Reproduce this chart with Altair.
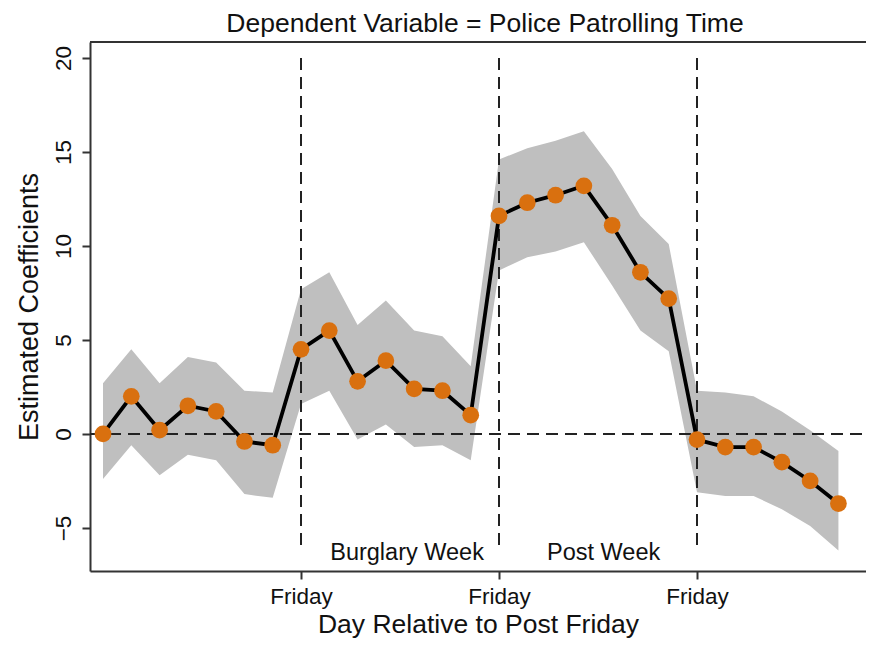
import altair as alt
import pandas as pd

# ---- data ----
days = list(range(-14, 13))
coef = [0.0, 2.0, 0.2, 1.5, 1.2, -0.4, -0.6,
        4.5, 5.5, 2.8, 3.9, 2.4, 2.3, 1.0,
        11.6, 12.3, 12.7, 13.2, 11.1, 8.6, 7.2,
        -0.3, -0.7, -0.7, -1.5, -2.5, -3.7]
upper = [2.7, 4.5, 2.7, 4.1, 3.8, 2.3, 2.2,
         7.7, 8.6, 5.8, 7.1, 5.5, 5.2, 3.6,
         14.6, 15.2, 15.6, 16.1, 14.1, 11.6, 10.1,
         2.3, 2.2, 2.0, 1.2, 0.2, -0.9]
lower = [-2.4, -0.6, -2.2, -1.1, -1.4, -3.2, -3.4,
         1.6, 2.3, -0.3, 0.5, -0.7, -0.6, -1.4,
         8.7, 9.4, 9.7, 10.2, 7.9, 5.5, 4.4,
         -3.1, -3.3, -3.3, -4.0, -4.9, -6.2]
friday_days = [-7, 0, 7]
friday_label = "Friday"
week_labels = ["Burglary Week", "Post Week"]
week_label_days = [-3.25, 3.7]
week_label_y = -6.7
vline_top, vline_bottom = 20, -6
y_ticks = [-5, 0, 5, 10, 15, 20]

FONT = "Liberation Sans"
W, H = 776, 529

df = pd.DataFrame({"day": days, "coef": coef, "upper": upper, "lower": lower})
fr = pd.DataFrame({"day": friday_days, "top": [vline_top] * 3, "bottom": [vline_bottom] * 3})
zero = pd.DataFrame({"y": [0]})
wk = pd.DataFrame({"day": week_label_days, "label": week_labels, "y": [week_label_y] * 2})

xs = alt.Scale(domain=[-14.46, 12.975], nice=False, zero=False)
ys = alt.Scale(domain=[-7.29, 20.85], nice=False, zero=False)

x_axis = alt.Axis(values=friday_days, labelExpr="'" + friday_label + "'",
                  title="Day Relative to Post Friday", grid=False,
                  tickSize=8, labelPadding=6, labelFontSize=22.5,
                  titleFontSize=26.5, titlePadding=4, labelBaseline="top")
y_axis = alt.Axis(values=y_ticks, title="Estimated Coefficients", grid=False,
                  tickSize=8, labelAngle=270, labelAlign="center",
                  labelBaseline="bottom", labelPadding=7, labelFontSize=22.5,
                  titleFontSize=27, titlePadding=9)

band = alt.Chart(df).mark_area(color="#bfbfbf", opacity=1).encode(
    x=alt.X("day:Q", scale=xs, axis=x_axis),
    y=alt.Y("upper:Q", scale=ys, axis=y_axis),
    y2="lower:Q",
)

zero_rule = alt.Chart(zero).mark_rule(color="#222222", strokeWidth=2, strokeDash=[12, 7]).encode(
    y=alt.Y("y:Q", scale=ys), x=alt.value(0), x2=alt.value(W)
)

vrules = alt.Chart(fr).mark_rule(color="#222222", strokeWidth=2, strokeDash=[12, 7]).encode(
    x=alt.X("day:Q", scale=xs), y=alt.Y("top:Q", scale=ys), y2="bottom:Q"
)

line = alt.Chart(df).mark_line(color="black", strokeWidth=3.8).encode(
    x=alt.X("day:Q", scale=xs), y=alt.Y("coef:Q", scale=ys)
)

pts = alt.Chart(df).mark_circle(size=280, color="#D9700F", opacity=1).encode(
    x=alt.X("day:Q", scale=xs), y=alt.Y("coef:Q", scale=ys)
)

txt = alt.Chart(wk).mark_text(font=FONT, fontSize=23.5, color="#111111",
                              align="center", baseline="alphabetic").encode(
    x=alt.X("day:Q", scale=xs), y=alt.Y("y:Q", scale=ys), text="label:N"
)

top_border = alt.Chart(zero).mark_rule(color="#333333", strokeWidth=2).encode(
    x=alt.value(0), x2=alt.value(W), y=alt.value(0)
)

chart = alt.layer(band, zero_rule, vrules, line, pts, txt, top_border).properties(
    width=W, height=H,
    title=alt.Title("Dependent Variable = Police Patrolling Time", font=FONT,
                    fontSize=26.5, fontWeight="normal", color="#111111",
                    anchor="middle", offset=4, dx=7),
    autosize=alt.AutoSizeParams(type="none"),
    padding={"left": 82, "top": 34, "right": 0, "bottom": 71},
).configure_view(stroke=None).configure_axis(
    domainColor="#333333", domainWidth=2, tickColor="#333333", tickWidth=2,
    labelFont=FONT, titleFont=FONT, labelColor="#111111", titleColor="#111111",
    titleFontWeight="normal",
)

chart.save("out.html", embed_options={"renderer": "svg", "actions": False})
